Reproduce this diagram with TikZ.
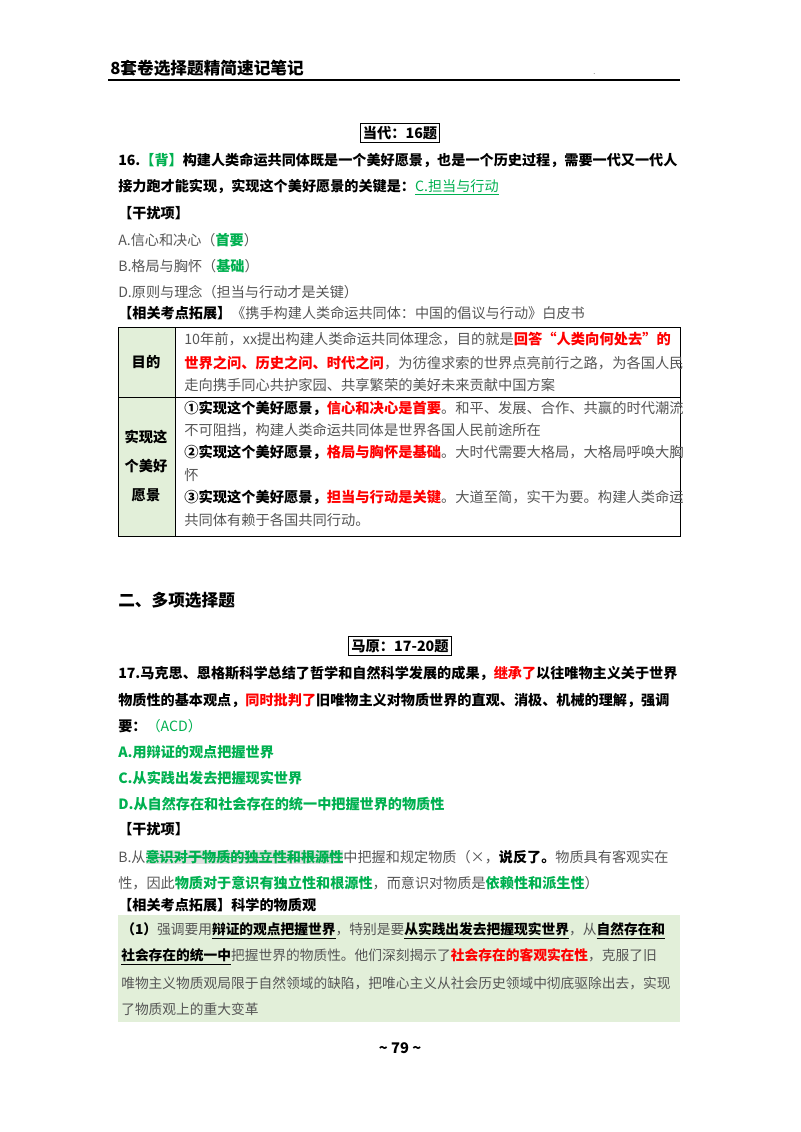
\documentclass[tikz,border=0pt]{standalone}
\usepackage{fontspec}
\setmainfont{Noto Sans CJK SC}
\definecolor{gn}{HTML}{00B050}
\definecolor{rd}{HTML}{FF0000}
\definecolor{gy}{HTML}{555555}
\definecolor{lg}{HTML}{E2EFD9}
\newcommand{\G}[1]{\textcolor{gn}{#1}}
\newcommand{\R}[1]{\textcolor{rd}{\bfseries #1}}
\newcommand{\Y}[1]{\textcolor{gy}{#1}}
\newcommand{\UL}[1]{\underline{#1}}
\newsavebox{\sobox}
\newcommand{\SO}[1]{\sbox{\sobox}{#1}\rlap{\rule[0.3em]{\wd\sobox}{0.6pt}}\usebox{\sobox}}
\tikzset{ln/.style={anchor=west,inner sep=0pt,font=\fontsize{10.6}{13}\selectfont},
gl/.style={anchor=west,inner sep=0pt,font=\fontsize{10.3}{13}\selectfont},
tb/.style={anchor=west,inner sep=0pt,font=\fontsize{10.7}{13}\selectfont},
ttl/.style={draw,line width=0.8pt,inner sep=2pt,font=\fontsize{10.7}{13}\selectfont\bfseries}}
\begin{document}
\begin{tikzpicture}[x=0.75pt,y=-0.75pt]
\useasboundingbox (0,0) rectangle (800,1132);
% header
\node[ln,font=\fontsize{12.5}{14}\selectfont\bfseries] (hd) at (110,68) {8套卷选择题精简速记笔记};
\node[ln,font=\tiny] (dot) at (593,74) {.};
\draw[line width=1pt] (108,80) -- (680,80);
\node[ttl] (t1) at (400,133) {当代：16题};
\node[ln] (a1) at (118,160) {\bfseries 16.\G{【背】}构建人类命运共同体既是一个美好愿景，也是一个历史过程，需要一代又一代人};
\node[ln] (a2) at (118,187) {\bfseries 接力跑才能实现，实现这个美好愿景的关键是：\mdseries\G{\UL{C.担当与行动}}};
\node[ln] (a3) at (118,213) {\bfseries 【干扰项】};
\node[ln] (a4) at (118,240) {\Y{A.信心和决心（}\G{\bfseries 首要}\Y{）}};
\node[ln] (a5) at (118,266) {\Y{B.格局与胸怀（}\G{\bfseries 基础}\Y{）}};
\node[ln] (a6) at (118,292) {\Y{D.原则与理念（担当与行动才是关键）}};
\node[ln] (a7) at (118,313) {\bfseries 【相关考点拓展】\mdseries\Y{《携手构建人类命运共同体：中国的倡议与行动》白皮书}};
% table
\fill[lg] (118,327) rectangle (175,536);
\draw[line width=0.6pt] (118,327) rectangle (680,536) (175,327) -- (175,536) (118,397) -- (680,397);
\node[tb,anchor=center,font=\fontsize{10.7}{13}\selectfont\bfseries] (c1) at (146,362) {目的};
\node[tb,anchor=center,align=center,font=\fontsize{10.7}{22}\selectfont\bfseries] (c2) at (146,466) {实现这\\个美好\\愿景};
\node[tb] (r1) at (184,339) {\Y{10年前，xx提出构建人类命运共同体理念，目的就是}\R{回答“人类向何处去”的}};
\node[tb] (r2) at (184,363) {\R{世界之问、历史之问、时代之问}\Y{，为彷徨求索的世界点亮前行之路，为各国人民}};
\node[tb] (r3) at (184,385) {\Y{走向携手同心共护家园、共享繁荣的美好未来贡献中国方案}};
\node[tb] (r4) at (184,408) {\bfseries ①实现这个美好愿景，\R{信心和决心是首要}\mdseries\Y{。和平、发展、合作、共赢的时代潮流}};
\node[tb] (r5) at (184,430) {\Y{不可阻挡，构建人类命运共同体是世界各国人民前途所在}};
\node[tb] (r6) at (184,452) {\bfseries ②实现这个美好愿景，\R{格局与胸怀是基础}\mdseries\Y{。大时代需要大格局，大格局呼唤大胸}};
\node[tb] (r7) at (184,475) {\Y{怀}};
\node[tb] (r8) at (184,497) {\bfseries ③实现这个美好愿景，\R{担当与行动是关键}\mdseries\Y{。大道至简，实干为要。构建人类命运}};
\node[tb] (r9) at (184,520) {\Y{共同体有赖于各国共同行动。}};
% section 2
\node[ln,font=\fontsize{12.5}{14}\selectfont\bfseries] (s2) at (118,600) {二、多项选择题};
\node[ttl] (t2) at (400,646) {马原：17-20题};
\node[ln] (b1) at (118,673) {\bfseries 17.马克思、恩格斯科学总结了哲学和自然科学发展的成果，\R{继承了}以往唯物主义关于世界};
\node[ln] (b2) at (118,700) {\bfseries 物质性的基本观点，\R{同时批判了}旧唯物主义对物质世界的直观、消极、机械的理解，强调};
\node[ln] (b3) at (118,726) {\bfseries 要：\mdseries\G{（ACD）}};
\node[ln] (b4) at (118,752) {\G{\bfseries A.用辩证的观点把握世界}};
\node[ln] (b5) at (118,778) {\G{\bfseries C.从实践出发去把握现实世界}};
\node[ln] (b6) at (118,804) {\G{\bfseries D.从自然存在和社会存在的统一中把握世界的物质性}};
\node[ln] (b7) at (118,829) {\bfseries 【干扰项】};
\node[ln] (b8) at (118,857) {\Y{B.从}{\fboxsep=0pt\colorbox{black!12}{\G{\bfseries\SO{意识对于物质的独立性和根源性}}}}\Y{中把握和规定物质（×，}\textbf{说反了。}\Y{物质具有客观实在}};
\node[ln] (b9) at (118,883) {\Y{性，因此}\G{\bfseries 物质对于意识有独立性和根源性}\Y{，而意识对物质是}\G{\bfseries 依赖性和派生性}\Y{）}};
\node[ln] (b10) at (118,905) {\bfseries 【相关考点拓展】科学的物质观};
\fill[lg] (118,915) rectangle (680,1022);
\node[gl] (g1) at (121,931) {\bfseries （1）\mdseries\Y{强调要用}\bfseries\UL{辩证的观点把握世界}\mdseries\Y{，特别是要}\bfseries\UL{从实践出发去把握现实世界}\mdseries\Y{，从}\bfseries\UL{自然存在和}};
\node[gl] (g2) at (121,957) {\bfseries\UL{社会存在的统一中}\mdseries\Y{把握世界的物质性。他们深刻揭示了}\R{社会存在的客观实在性}\Y{，克服了旧}};
\node[gl] (g3) at (121,983) {\Y{唯物主义物质观局限于自然领域的缺陷，把唯心主义从社会历史领域中彻底驱除出去，实现}};
\node[gl] (g4) at (121,1009) {\Y{了物质观上的重大变革}};
\node[anchor=center,font=\fontsize{11}{13}\selectfont\bfseries] (pg) at (400,1048) {\textasciitilde\ 79 \textasciitilde};
\end{tikzpicture}
\end{document}
